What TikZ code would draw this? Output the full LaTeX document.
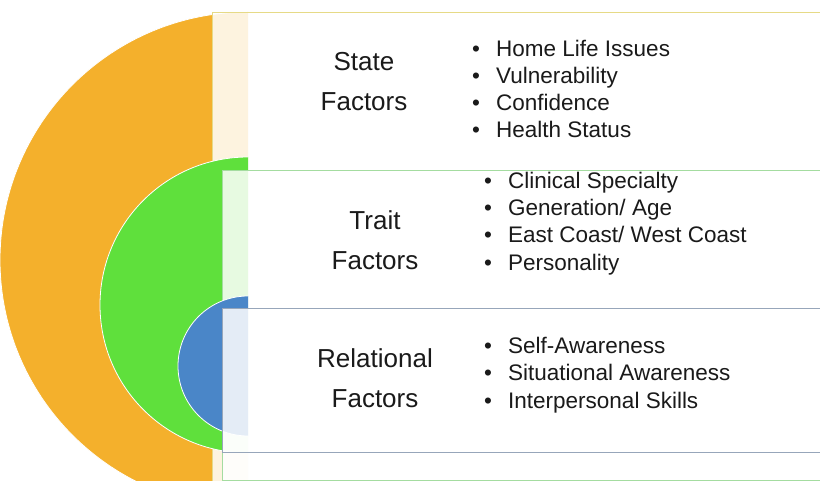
\documentclass[tikz,border=0pt]{standalone}
\usepackage{fontspec}
\setmainfont{Liberation Sans}

\definecolor{outerring}{HTML}{F4B02C}
\definecolor{midring}{HTML}{5FE03C}
\definecolor{innerring}{HTML}{4A86C8}
\definecolor{outeredge}{HTML}{E6DA86}
\definecolor{midedge}{HTML}{A4DCA0}
\definecolor{inneredge}{HTML}{97A6BA}
\definecolor{inktext}{HTML}{1A1A1A}

\begin{document}
\begin{tikzpicture}[x=1pt,y=-1pt,
    ring/.style={draw=white,line width=0.8pt},
    band/.style={fill=white,fill opacity=0.85,line width=0.9pt},
    title/.style={align=center,inner sep=0pt,text=inktext,
        font=\fontsize{26}{40}\selectfont},
    items/.style={align=left,anchor=west,inner sep=0pt,text=inktext,
        font=\fontsize{22.5}{27.3}\selectfont}]
    \newcommand{\itm}[1]{\makebox[24pt][l]{\textbullet}#1}
    \useasboundingbox (0,0) rectangle (820,481);
    \clip (0,0) rectangle (820,481);

    % outer ring and its band
    \begin{scope}
        \clip (-10,-10) rectangle (248,500);
        \filldraw[ring,fill=outerring] (248,260) circle[radius=248pt];
    \end{scope}
    \draw[band,draw=outeredge] (212,12) rectangle (830,520);

    % middle ring and its band
    \begin{scope}
        \clip (-10,-10) rectangle (248,500);
        \filldraw[ring,fill=midring] (248,305) circle[radius=148pt];
    \end{scope}
    \draw[band,draw=midedge] (222,170) rectangle (830,480);

    % inner ring and its band
    \begin{scope}
        \clip (-10,-10) rectangle (248,500);
        \filldraw[ring,fill=innerring] (248,366) circle[radius=70pt];
    \end{scope}
    \draw[band,draw=inneredge] (222,308) rectangle (830,452);

    % labels
    \node[title] (state) at (364,82) {State\\Factors};
    \node[title] (trait) at (375,240) {Trait\\Factors};
    \node[title] (relational) at (375,378) {Relational\\Factors};

    \node[items] (statelist) at (472,89)
        {\itm{Home Life Issues}\\\itm{Vulnerability}\\\itm{Confidence}\\\itm{Health Status}};
    \node[items] (traitlist) at (484,223.5)
        {\itm{Clinical Specialty}\\\itm{Generation/ Age}\\\itm{East Coast/ West Coast}\\\itm{Personality}};
    \node[items] (relationallist) at (484,375)
        {\itm{Self-Awareness}\\\itm{Situational Awareness}\\\itm{Interpersonal Skills}};
\end{tikzpicture}
\end{document}
